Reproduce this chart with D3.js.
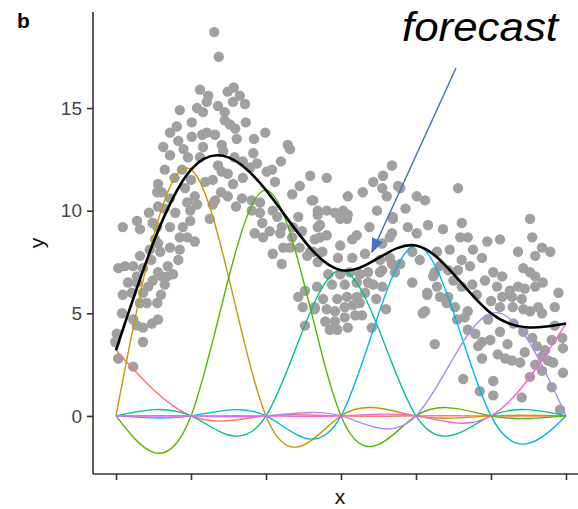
<!DOCTYPE html>
<html>
<head>
<meta charset="utf-8" />
<title>basis</title>
<script src="https://cdn.jsdelivr.net/npm/d3@7"></script>
<style>
  body { margin: 0; background: #fff; }
  text { font-family: "Liberation Sans", Arial, sans-serif; }
</style>
</head>
<body>
<svg width="578" height="509"></svg>
<script>
// knots (unlabelled x ticks) and the spline value at each knot
var knotX = [0, 1, 2, 3, 4, 5, 6]
var knotY = [3.2, 12.0, 11.0, 7.1, 8.3, 5.0, 4.5]
var basisColors = ['#F8766D', '#C49A00', '#53B400', '#00C094', '#00B6EB', '#A58AFF', '#FB61D7']
var yTicks = [0, 5, 10, 15]

// observed points [x, y]
var points = [
  [1.12,15.9],[0.85,14.9],[1.08,15.0],[0.81,14.1],[0.72,13.8],[0.83,13.4],[1.01,13.6],[1.15,13.7],
  [0.63,13.1],[0.72,12.7],[0.65,12.0],[0.96,12.6],[1.12,12.6],[0.56,11.3],[0.61,10.9],[0.92,11.1],
  [1.05,10.7],[0.72,10.6],[0.56,10.2],[0.65,10.1],[0.95,10.4],[1.08,10.3],[0.99,10.0],[0.79,9.9],
  [0.99,9.5],[0.55,9.2],[0.72,9.2],[0.89,9.2],[0.85,8.7],[0.95,8.7],[1.05,8.5],[0.52,8.6],
  [0.56,8.4],[0.72,8.2],[0.85,8.1],[0.45,8.1],[0.59,8.0],[0.32,7.8],[0.83,7.6],[0.69,7.3],
  [0.36,7.2],[0.56,7.0],[0.61,6.8],[0.68,6.8],[0.76,6.9],[0.49,6.6],[0.65,6.4],[0.43,6.3],
  [0.36,6.0],[0.28,6.8],[0.12,7.3],[0.23,7.3],[0.28,6.5],[0.32,5.5],[0.41,5.5],[0.55,5.5],
  [0.56,4.7],[0.48,4.5],[0.36,4.3],[0.28,4.4],[0.23,4.7],[0.08,5.0],[0.09,5.9],[0.21,6.0],
  [0.03,7.2],[0.09,9.2],[0.28,9.5],[0.32,9.1],[0.49,9.4],[0.55,10.9],[0.01,4.0],[-0.01,3.6],
  [0.36,3.6],[0.03,2.8],[0.23,2.4],[1.31,18.7],[1.37,17.5],
  [0.44,9.9],[0.78,11.6],[0.88,12.0],[0.47,7.6],[0.16,6.5],[0.6,5.9],[0.9,13.0],[1.0,11.5],
  [1.21,15.3],[1.36,15.1],[1.45,14.8],[1.56,15.3],[1.45,14.4],[1.16,14.8],[1.21,13.8],[1.32,13.7],
  [1.59,14.0],[1.61,13.5],[1.99,13.8],[2.29,13.2],[2.32,13.0],[1.41,13.2],[1.43,12.9],[1.16,13.1],
  [1.83,12.8],[1.69,12.4],[1.88,12.3],[2.01,11.9],[2.08,12.0],[1.79,12.1],[2.59,11.7],[1.41,11.9],
  [1.49,11.8],[1.56,11.3],[1.29,11.5],[1.19,11.4],[1.69,11.6],[2.12,11.4],[2.35,10.8],[2.61,10.5],
  [1.68,10.6],[1.81,10.5],[1.49,10.7],[1.32,10.5],[1.29,10.3],[1.92,10.4],[1.81,10.0],[1.92,9.9],
  [1.95,9.4],[1.85,8.9],[1.96,8.7],[2.09,10.0],[2.15,9.7],[2.21,9.2],[2.43,9.7],[2.36,9.2],
  [2.19,8.9],[2.35,8.7],[2.09,7.9],[2.23,8.2],[2.32,8.2],[2.45,8.2],[2.55,7.8],[2.65,8.6],
  [2.63,8.0],[2.21,7.4],[2.52,6.1],[2.43,5.8],[2.49,5.3],[2.65,5.2],[2.68,6.3],[2.52,4.4],
  [2.69,9.2],[2.69,9.8],[1.01,14.3],[1.49,15.8],[1.65,15.6],[1.72,15.2],[1.23,15.6],[1.57,16.0],
  [1.25,9.6],[1.73,14.3],[1.84,13.5],[1.52,14.2],
  [1.36,12.2],[1.58,12.6],[2.2,12.4],[2.45,11.2],[1.6,10.2],[2.05,9.0],[2.48,9.0],[1.4,10.9],
  [3.68,12.2],[3.43,11.4],[3.56,11.7],[3.55,11.1],[3.61,10.7],[3.76,11.2],[4.01,10.7],[4.12,10.5],
  [2.81,11.6],[2.63,10.5],[3.09,10.7],[3.29,10.9],[3.48,10.0],[2.69,10.0],[2.81,10.0],[2.92,9.9],
  [3.03,10.0],[3.09,9.8],[2.72,9.3],[2.99,9.6],[3.08,9.6],[3.69,9.7],[3.89,9.2],[4.01,8.9],
  [4.16,9.3],[2.72,8.7],[2.81,8.8],[3.15,8.6],[3.21,8.8],[3.65,8.7],[2.99,8.3],[2.59,8.0],
  [2.75,8.0],[2.96,7.7],[3.15,7.7],[3.32,7.9],[3.65,7.7],[3.79,7.4],[2.69,7.5],[2.83,6.9],
  [2.99,6.9],[3.12,7.0],[3.25,6.9],[3.36,7.0],[3.52,7.0],[3.72,7.0],[3.68,7.4],[2.88,6.4],
  [3.05,6.4],[3.21,6.5],[3.36,6.5],[3.43,6.4],[3.55,6.3],[3.95,6.5],[4.23,6.8],[2.76,5.7],
  [2.95,5.7],[3.08,5.8],[3.21,5.8],[3.32,6.0],[4.15,6.0],[2.65,5.3],[2.81,5.2],[2.92,5.1],
  [3.05,5.3],[3.16,5.4],[3.25,5.5],[2.79,4.6],[2.92,4.6],[3.05,4.8],[3.19,4.9],[3.28,4.9],
  [2.95,4.2],[2.85,4.2],[3.09,4.3],[3.41,4.3],[4.12,5.1],[4.25,3.5],[4.28,6.3],[4.25,7.0],
  [3.38,9.2],[3.86,10.1],[3.47,5.7],[3.6,5.2],[4.05,7.6],
  [3.79,11.1],[4.56,11.1],[3.69,9.6],[4.36,9.1],[4.61,9.4],[4.59,8.7],[4.69,8.7],[4.95,8.5],
  [5.12,8.6],[5.52,9.6],[5.55,8.7],[5.68,8.2],[5.79,8.0],[5.36,8.0],[5.59,7.8],[4.28,8.0],
  [4.45,8.1],[4.76,8.1],[4.61,7.6],[4.72,7.3],[4.43,7.1],[4.32,7.3],[4.56,7.1],[5.43,7.2],
  [5.52,7.0],[5.59,6.8],[5.69,6.5],[5.03,7.0],[5.15,6.8],[4.92,6.6],[5.59,6.3],[5.08,6.3],
  [5.25,6.1],[5.36,6.3],[5.45,6.2],[4.61,6.3],[4.75,6.4],[4.32,5.8],[4.43,5.8],[4.81,5.9],
  [5.15,5.8],[5.28,5.8],[5.41,5.7],[5.63,5.3],[5.85,5.3],[5.29,5.3],[5.12,5.3],[4.52,5.3],
  [4.69,5.1],[5.43,5.2],[5.52,5.1],[5.68,5.0],[4.55,4.7],[4.65,4.8],[4.96,4.7],[5.12,4.1],
  [5.43,4.1],[5.55,3.8],[4.69,4.2],[4.79,4.0],[4.88,3.6],[4.99,3.7],[4.83,3.4],[5.81,3.7],
  [5.95,3.8],[5.96,3.3],[5.72,3.2],[5.09,3.0],[5.19,2.8],[5.28,2.7],[5.39,2.6],[5.45,3.1],
  [5.61,3.4],[5.68,2.9],[5.76,2.7],[4.88,2.8],[5.59,2.5],[5.68,2.2],[5.83,2.6],[5.96,2.1],
  [5.52,1.9],[5.81,1.4],[4.63,1.8],[5.03,1.7],[4.85,1.2],[5.03,1.0],[5.41,0.9],[5.92,0.3],
  [3.68,8.9],[3.55,8.4],[3.52,7.6],[3.95,8.0],[3.55,7.1],[4.09,5.0],[4.15,5.9],[4.41,5.5],
  [5.3,4.5],[5.85,4.4],[5.0,5.6],[4.5,6.6],[5.9,6.0],[5.22,3.5],[4.88,7.7]
]

var svg = d3.select('svg')

// scales: panel from x=93 to past the right edge, y from 12 to 474
var x = d3.scaleLinear().domain([-0.3, 6.3]).range([93.5, 588.5])
var y = d3.scaleLinear().domain([-2.83, 19.68]).range([474, 12])

// points
svg.append('g').selectAll('circle')
  .data(points)
  .enter().append('circle')
  .attr('cx', d => x(d[0]))
  .attr('cy', d => y(d[1]))
  .attr('r', 5.2)
  .attr('fill', '#a0a0a0')

// each basis function scaled by its knot value (natural spline through one nonzero knot)
var line = d3.line()
  .x(d => x(d[0]))
  .y(d => y(d[1]))
  .curve(d3.curveNatural)

knotY.forEach(function(v, i) {
  var pts = knotX.map((k, j) => [k, j === i ? v : 0])
  svg.append('path')
    .attr('d', line(pts))
    .attr('fill', 'none')
    .attr('stroke', basisColors[i])
    .attr('stroke-width', 1.4)
})

// the fitted curve = sum of the basis functions
svg.append('path')
  .attr('d', line(knotX.map((k, i) => [k, knotY[i]])))
  .attr('fill', 'none')
  .attr('stroke', '#000')
  .attr('stroke-width', 2.6)

// axes
var yAxis = d3.axisLeft(y).tickValues(yTicks).tickSize(6).tickPadding(5)
var xAxis = d3.axisBottom(x).tickValues(knotX).tickSize(6).tickFormat('')

var gy = svg.append('g').attr('transform', 'translate(93,0)').call(yAxis)
var gx = svg.append('g').attr('transform', 'translate(0,474)').call(xAxis)

;[gx, gy].forEach(function(g) {
  g.select('.domain').attr('stroke', '#333').attr('stroke-width', 1.6)
  g.selectAll('.tick line').attr('stroke', '#333').attr('stroke-width', 1.6)
  g.selectAll('text').attr('font-size', 19).attr('fill', '#444')
    .attr('font-family', '"Liberation Sans", Arial, sans-serif')
})
gy.select('.domain').attr('d', 'M0,12V474')
gx.select('.domain').attr('d', 'M93,0H578')

// axis titles
svg.append('text').attr('x', 340).attr('y', 504)
  .attr('text-anchor', 'middle').attr('font-size', 21).attr('fill', '#111').text('x')
svg.append('text').attr('transform', 'translate(44,243) rotate(-90)')
  .attr('text-anchor', 'middle').attr('font-size', 21).attr('fill', '#111').text('y')

// panel tag
svg.append('text').attr('x', 17).attr('y', 28)
  .attr('font-size', 21).attr('font-weight', 'bold').text('b')

// annotation
svg.append('defs').append('marker')
  .attr('id', 'head').attr('viewBox', '0 0 10 10')
  .attr('refX', 9).attr('refY', 5)
  .attr('markerWidth', 15).attr('markerHeight', 12)
  .attr('markerUnits', 'userSpaceOnUse')
  .attr('orient', 'auto')
  .attr('preserveAspectRatio', 'none')
  .append('path').attr('d', 'M0,0L10,5L0,10Z').attr('fill', '#4472C4')

svg.append('line')
  .attr('x1', 456).attr('y1', 68).attr('x2', 372).attr('y2', 252)
  .attr('stroke', '#4472C4').attr('stroke-width', 1.5)
  .attr('marker-end', 'url(#head)')

svg.append('text').attr('x', 402).attr('y', 41)
  .attr('font-family', '"Open Sans", sans-serif')
  .attr('font-style', 'italic').attr('font-size', 41)
  .attr('textLength', 156).attr('lengthAdjust', 'spacingAndGlyphs')
  .text('forecast')
</script>
</body>
</html>
